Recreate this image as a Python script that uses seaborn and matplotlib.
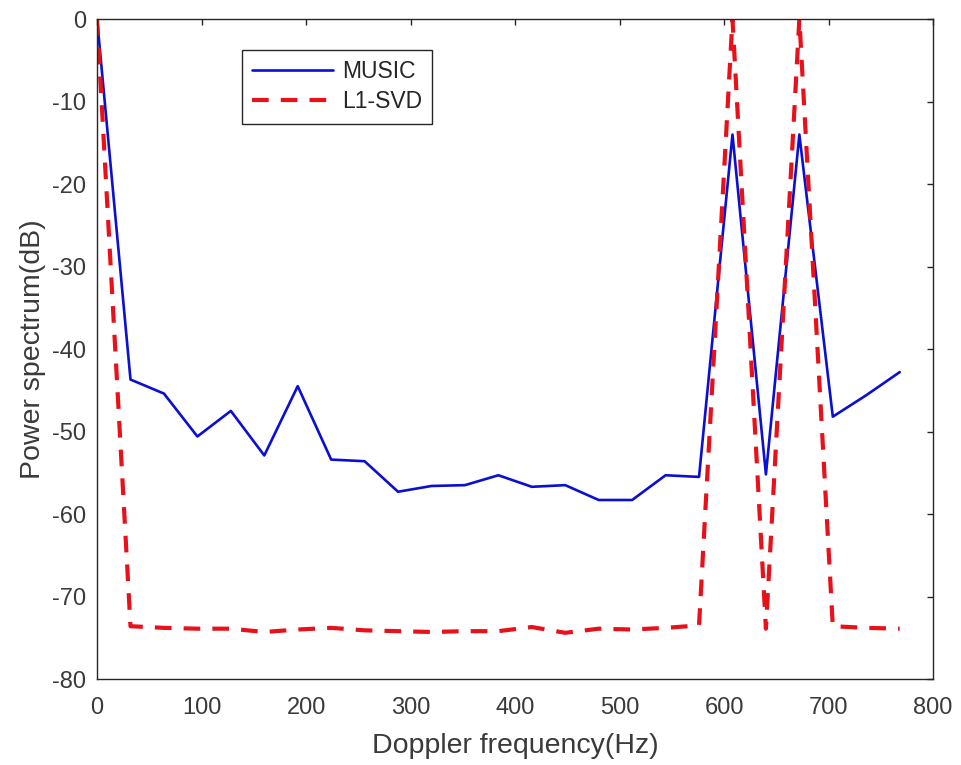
import numpy as np
import pandas as pd
import matplotlib
matplotlib.use("Agg")
import matplotlib.pyplot as plt
import seaborn as sns

# Doppler frequency grid (Hz)
freq = [0, 32, 64, 96, 128, 160, 192, 224, 256, 288, 320, 352, 384,
        416, 448, 480, 512, 544, 576, 608, 640, 672, 704, 736, 768]

# Normalised power spectra (dB)
music_db = [0.0, -43.7, -45.4, -50.6, -47.5, -52.9, -44.5, -53.4, -53.6,
            -57.3, -56.6, -56.5, -55.3, -56.7, -56.5, -58.3, -58.3, -55.3,
            -55.5, -14.0, -55.2, -14.0, -48.2, -45.6, -42.8]
l1svd_db = [0.0, -73.6, -73.8, -73.9, -73.9, -74.3, -74.0, -73.8, -74.1,
            -74.2, -74.3, -74.2, -74.2, -73.7, -74.4, -73.9, -74.0, -73.8,
            -73.5, 0.0, -73.9, 0.0, -73.6, -73.8, -73.9]

x_ticks = list(range(0, 801, 100))
y_ticks = list(range(-80, 1, 10))

sns.set_style("white")
plt.rcParams["font.family"] = ["Liberation Sans", "DejaVu Sans"]
plt.rcParams["axes.unicode_minus"] = False

fig = plt.figure(figsize=(9.61, 7.65), dpi=100)
ax = fig.add_axes([0.101, 0.1124, 0.870, 0.8627])

df_music = pd.DataFrame({"f": freq, "p": music_db})
df_l1 = pd.DataFrame({"f": freq, "p": l1svd_db})

sns.lineplot(data=df_music, x="f", y="p", ax=ax, color="#0a0fd2",
             linewidth=1.9, label="MUSIC")
sns.lineplot(data=df_l1, x="f", y="p", ax=ax, color="#e8111a",
             linewidth=3.0, label="L1-SVD")
ax.lines[1].set_dashes((4.0, 2.9))

ax.set_xlim(0, 800)
ax.set_ylim(-80, 0)
ax.set_xticks(x_ticks)
ax.set_yticks(y_ticks)

for s in ax.spines.values():
    s.set_visible(True)
    s.set_color("#262626")
    s.set_linewidth(1.0)

ax.tick_params(axis="both", which="both", direction="in", length=4.5,
               width=1.0, color="#262626", labelcolor="#3a3a3a",
               labelsize=17, top=True, right=True)
ax.tick_params(axis="x", pad=13)
ax.tick_params(axis="y", pad=8)

ax.set_xlabel("Doppler frequency(Hz)", fontsize=20.5, color="#3a3a3a",
              labelpad=10)
ax.set_ylabel("Power spectrum(dB)", fontsize=20.5, color="#3a3a3a",
              labelpad=4)

leg = ax.legend(loc="upper left", bbox_to_anchor=(0.1734, 0.953),
                borderaxespad=0, fontsize=16.5, frameon=True, fancybox=False,
                handlelength=3.5, handletextpad=0.4, borderpad=0.45,
                labelspacing=0.3)
leg.get_frame().set_edgecolor("#262626")
leg.get_frame().set_linewidth(1.0)
leg.get_frame().set_alpha(1.0)

fig.savefig("out.png", dpi=100, facecolor="white")
